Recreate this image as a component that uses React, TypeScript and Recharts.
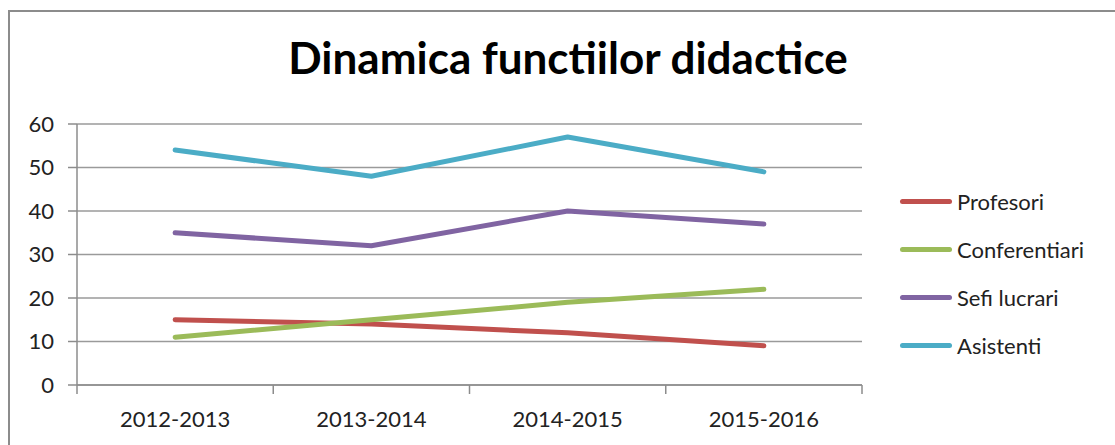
import { LineChart, Line, XAxis, YAxis, CartesianGrid } from "recharts";

const years = ["2012-2013", "2013-2014", "2014-2015", "2015-2016"];
const profesori = [15, 14, 12, 9];
const conferentiari = [11, 15, 19, 22];
const sefiLucrari = [35, 32, 40, 37];
const asistenti = [54, 48, 57, 49];
const yTicks = [0, 10, 20, 30, 40, 50, 60];

const series = [
  { key: "profesori", name: "Profesori", color: "#C0504D" },
  { key: "conferentiari", name: "Conferentiari", color: "#9BBB59" },
  { key: "sefi", name: "Sefi lucrari", color: "#8064A2" },
  { key: "asistenti", name: "Asistenti", color: "#4BACC6" },
];

const data = years.map((y, i) => ({
  year: y,
  profesori: profesori[i],
  conferentiari: conferentiari[i],
  sefi: sefiLucrari[i],
  asistenti: asistenti[i],
}));

const FONT = "Lato, 'Open Sans', sans-serif";
const AXIS = "#8c8c8c";

// category label + Excel-style tick marks on the band edges
function YearTick(props: any) {
  const { x, y, payload, index, visibleTicksCount } = props;
  const half = payload?.offset ?? 0;
  const last = index === visibleTicksCount - 1;
  return (
    <g>
      {half > 0 && (
        <line x1={x - half} x2={x - half} y1={y} y2={y + 9} stroke={AXIS} strokeWidth={1.5} />
      )}
      {half > 0 && last && (
        <line x1={x + half} x2={x + half} y1={y} y2={y + 9} stroke={AXIS} strokeWidth={1.5} />
      )}
      <text
        x={x}
        y={y + 26}
        dy="0.71em"
        textAnchor="middle"
        fontSize={22}
        fill="#222"
        fontFamily={FONT}
      >
        {payload.value}
      </text>
    </g>
  );
}

// Legend drawn by hand: Excel style, short thick line + label, stacked
function LegendBox() {
  return (
    <div style={{ fontFamily: FONT, fontSize: 22, color: "#222" }}>
      {series.map((s) => (
        <div
          key={s.key}
          style={{ display: "flex", alignItems: "center", height: 48 }}
        >
          <span
            style={{
              display: "inline-block",
              width: 52,
              height: 5,
              borderRadius: 3,
              background: s.color,
              marginRight: 5,
            }}
          />
          {s.name}
        </div>
      ))}
    </div>
  );
}

export default function App() {
  return (
    <div
      style={{
        position: "absolute",
        left: 0,
        top: 0,
        width: 1115,
        height: 445,
        overflow: "hidden",
        background: "#fff",
      }}
    >
      <div
        style={{
          position: "absolute",
          left: 8,
          top: 10,
          width: 1120,
          height: 460,
          border: "2px solid #8c8c8c",
        }}
      />
      <div
        style={{
          position: "absolute",
          left: 0,
          width: 1136,
          top: 31,
          textAlign: "center",
          fontFamily: FONT,
          fontWeight: 700,
          fontSize: 44,
          color: "#000",
        }}
      >
        Dinamica functiilor didactice
      </div>
      <div style={{ position: "absolute", left: 0, top: 0 }}>
        <LineChart
          width={1115}
          height={445}
          data={data}
          margin={{ top: 124, right: 253, bottom: 0, left: 0 }}
        >
          <CartesianGrid vertical={false} stroke="#9a9a9a" strokeWidth={1.5} />
          <XAxis
            dataKey="year"
            scale="band"
            axisLine={{ stroke: AXIS, strokeWidth: 1.5 }}
            tickLine={false}
            tickSize={0}
            tickMargin={0}
            height={60}
            interval={0}
            tick={<YearTick />}
          />
          <YAxis
            domain={[0, 60]}
            ticks={yTicks}
            width={77}
            axisLine={{ stroke: AXIS, strokeWidth: 1.5 }}
            tickLine={{ stroke: AXIS, strokeWidth: 1.5 }}
            tickSize={9}
            tickMargin={14}
            tick={{ fontSize: 22, fill: "#222", fontFamily: FONT }}
          />
          {series.map((s) => (
            <Line
              key={s.key}
              dataKey={s.key}
              name={s.name}
              stroke={s.color}
              strokeWidth={5}
              strokeLinecap="round"
              strokeLinejoin="round"
              dot={false}
              activeDot={false}
              isAnimationActive={false}
            />
          ))}
        </LineChart>
      </div>
      <div style={{ position: "absolute", left: 900, top: 177 }}>
        <LegendBox />
      </div>
    </div>
  );
}
